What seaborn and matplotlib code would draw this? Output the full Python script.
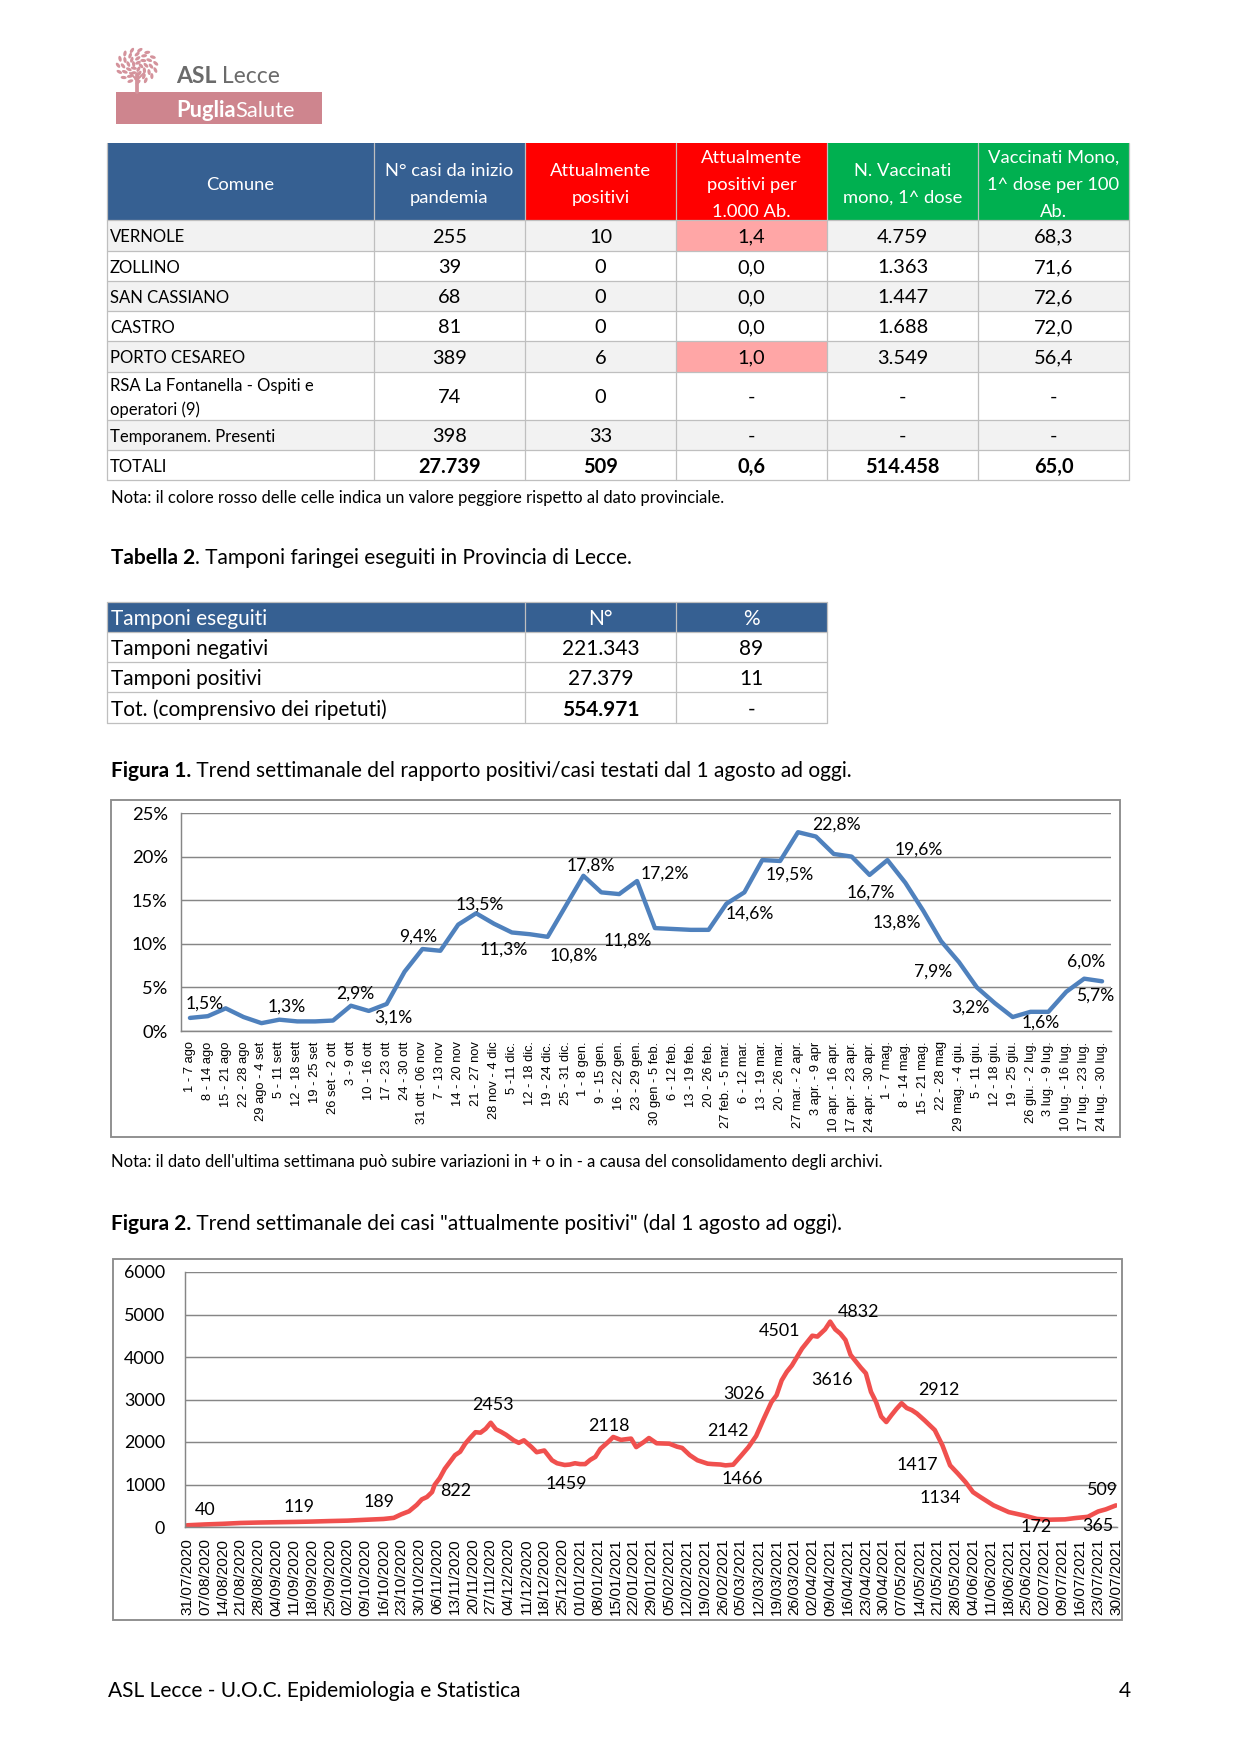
"""Ricostruzione della pagina 4 del report ASL Lecce: due tabelle e due grafici di trend."""

import matplotlib

matplotlib.use("Agg")
import matplotlib.pyplot as plt
import numpy as np
import seaborn as sns
from matplotlib.patches import Ellipse, Rectangle
from matplotlib.ticker import PercentFormatter

W, H, DPI = 1241, 1755, 150
GRIGIO = "#868686"
BLU = "#366092"
ROSSO = "#FF0000"
VERDE = "#00B050"
VA = "center_baseline"

# --- Tabella 1 ---
intestazioni = [
    "Comune",
    "N° casi da inizio\npandemia",
    "Attualmente\npositivi",
    "Attualmente\npositivi per\n1.000 Ab.",
    "N. Vaccinati\nmono, 1^ dose",
    "Vaccinati Mono,\n1^ dose per 100\nAb.",
]
comuni = [
    "VERNOLE", "ZOLLINO", "SAN CASSIANO", "CASTRO", "PORTO CESAREO",
    "RSA La Fontanella - Ospiti e\noperatori (9)", "Temporanem. Presenti", "TOTALI",
]
casi_totali = ["255", "39", "68", "81", "389", "74", "398", "27.739"]
attualmente_positivi = ["10", "0", "0", "0", "6", "0", "33", "509"]
positivi_per_1000 = ["1,4", "0,0", "0,0", "0,0", "1,0", "-", "-", "0,6"]
vaccinati = ["4.759", "1.363", "1.447", "1.688", "3.549", "-", "-", "514.458"]
vaccinati_per_100 = ["68,3", "71,6", "72,6", "72,0", "56,4", "-", "-", "65,0"]
peggiore_del_provinciale = [True, False, False, False, True, False, False, False]

# --- Tabella 2 ---
tamponi_voci = ["Tamponi negativi", "Tamponi positivi", "Tot. (comprensivo dei ripetuti)"]
tamponi_n = ["221.343", "27.379", "554.971"]
tamponi_pct = ["89", "11", "-"]

# --- Figura 1: rapporto positivi/testati per settimana (%) ---
settimane = [
    "1 - 7 ago", "8 - 14 ago", "15 - 21 ago", "22 - 28 ago", "29 ago - 4 set",
    "5 - 11 sett", "12 - 18 sett", "19 - 25 set", "26 set - 2 ott", "3 - 9 ott",
    "10 - 16 ott", "17 - 23 ott", "24 - 30 ott", "31 ott - 06 nov", "7 - 13 nov",
    "14 - 20 nov", "21 - 27 nov", "28 nov - 4 dic", "5 -11 dic.", "12 - 18 dic.",
    "19 - 24 dic.", "25 - 31 dic.", "1 - 8 gen.", "9 - 15 gen.", "16 - 22 gen.",
    "23 - 29 gen.", "30 gen - 5 feb.", "6 - 12 feb.", "13 - 19 feb.", "20 - 26 feb.",
    "27 feb. - 5 mar.", "6 - 12 mar.", "13 - 19 mar.", "20 - 26 mar.", "27 mar. - 2 apr.",
    "3 apr. - 9 apr", "10 apr. - 16 apr.", "17 apr. - 23 apr.", "24 apr. - 30 apr.", "1 - 7 mag.",
    "8 - 14 mag.", "15 - 21 mag.", "22 - 28 mag", "29 mag. - 4 giu.", "5 - 11 giu.",
    "12 - 18 giu.", "19 - 25 giu.", "26 giu. - 2 lug.", "3 lug. - 9 lug.", "10 lug. - 16 lug.",
    "17 lug. - 23 lug.", "24 lug. - 30 lug.",
]
rapporto_positivi = [
    1.5, 1.7, 2.6, 1.6, 0.9, 1.3, 1.1, 1.1, 1.2, 2.9,
    2.3, 3.1, 6.8, 9.4, 9.2, 12.2, 13.5, 12.3, 11.3, 11.1,
    10.8, 14.3, 17.8, 15.9, 15.7, 17.2, 11.8, 11.7, 11.6, 11.6,
    14.6, 15.9, 19.6, 19.5, 22.8, 22.3, 20.3, 20.0, 17.9, 19.6,
    17.0, 13.8, 10.3, 7.9, 5.0, 3.2, 1.6, 2.2, 2.2, 4.5,
    6.0, 5.7,
]
etichette_fig1 = {
    0: "1,5%", 5: "1,3%", 9: "2,9%", 11: "3,1%", 13: "9,4%", 16: "13,5%",
    18: "11,3%", 20: "10,8%", 22: "17,8%", 25: "17,2%", 26: "11,8%", 30: "14,6%",
    33: "19,5%", 34: "22,8%", 38: "16,7%", 39: "19,6%", 41: "13,8%", 43: "7,9%",
    45: "3,2%", 46: "1,6%", 50: "6,0%", 51: "5,7%",
}

# --- Figura 2: attualmente positivi (giorni dal 31/07/2020) ---
giorni = [
    0, 7, 14, 21, 28, 35, 42, 49, 56, 63,
    70, 77, 81, 84, 87, 90, 92, 94, 96, 97,
    99, 101, 103, 105, 107, 109, 111, 113, 115, 117,
    119, 121, 123, 125, 128, 130, 132, 135, 137, 140,
    143, 145, 148, 150, 152, 154, 156, 158, 160, 162,
    165, 167, 170, 174, 176, 179, 181, 184, 189, 192,
    194, 197, 200, 204, 206, 209, 211, 214, 217, 220,
    223, 226, 229, 231, 233, 235, 237, 239, 241, 243,
    245, 247, 250, 252, 254, 256, 258, 260, 262, 264,
    266, 268, 270, 272, 274, 276, 278, 280, 282, 284,
    286, 289, 293, 296, 299, 302, 305, 308, 311, 316,
    322, 328, 333, 338, 344, 348, 353, 357, 360, 364,
]
attualmente = [
    40, 60, 75, 95, 105, 112, 119, 128, 140, 150,
    170, 189, 215, 300, 370, 520, 650, 706, 822, 990,
    1150, 1370, 1530, 1690, 1770, 1960, 2100, 2230, 2220, 2310,
    2453, 2300, 2240, 2170, 2040, 1980, 2040, 1880, 1760, 1800,
    1570, 1500, 1459, 1470, 1500, 1480, 1480, 1580, 1650, 1840,
    2000, 2118, 2050, 2080, 1880, 2000, 2094, 1970, 1960, 1890,
    1860, 1690, 1570, 1490, 1480, 1470, 1450, 1466, 1670, 1880,
    2142, 2550, 2940, 3100, 3450, 3650, 3800, 4000, 4200, 4350,
    4501, 4480, 4650, 4832, 4650, 4550, 4400, 4050, 3900, 3750,
    3616, 3180, 2940, 2600, 2470, 2630, 2780, 2912, 2800, 2750,
    2670, 2510, 2280, 1920, 1450, 1260, 1060, 820, 700, 510,
    350, 270, 190, 172, 180, 210, 240, 365, 415, 509,
]
date_settimanali = [
    "31/07/2020", "07/08/2020", "14/08/2020", "21/08/2020", "28/08/2020", "04/09/2020",
    "11/09/2020", "18/09/2020", "25/09/2020", "02/10/2020", "09/10/2020", "16/10/2020",
    "23/10/2020", "30/10/2020", "06/11/2020", "13/11/2020", "20/11/2020", "27/11/2020",
    "04/12/2020", "11/12/2020", "18/12/2020", "25/12/2020", "01/01/2021", "08/01/2021",
    "15/01/2021", "22/01/2021", "29/01/2021", "05/02/2021", "12/02/2021", "19/02/2021",
    "26/02/2021", "05/03/2021", "12/03/2021", "19/03/2021", "26/03/2021", "02/04/2021",
    "09/04/2021", "16/04/2021", "23/04/2021", "30/04/2021", "07/05/2021", "14/05/2021",
    "21/05/2021", "28/05/2021", "04/06/2021", "11/06/2021", "18/06/2021", "25/06/2021",
    "02/07/2021", "09/07/2021", "16/07/2021", "23/07/2021", "30/07/2021",
]
etichette_fig2 = {
    0: "40", 42: "119", 77: "189", 96: "822", 119: "2453", 148: "1459", 167: "2118",
    214: "1466", 223: "2142", 231: "3026", 245: "4501", 252: "4832", 266: "3616",
    280: "2912", 299: "1417", 305: "1134", 338: "172", 357: "365", 364: "509",
}


def px_axes(fig, x0, y0, x1, y1):
    return fig.add_axes([x0 / W, 1 - y1 / H, (x1 - x0) / W, (y1 - y0) / H])


def testo_misto(ax, x, y, parti, size, color="black"):
    t = ax.text(x, y, parti[0][0], fontsize=size, fontweight=parti[0][1],
                color=color, ha="left", va=VA)
    for s, w in parti[1:]:
        t = ax.annotate(s, xy=(1, 0), xycoords=t, fontsize=size, fontweight=w,
                        color=color, ha="left", va="bottom")
    return t


def righe_centrate(ax, xc, yc, testo, passo, **kw):
    righe = testo.split("\n")
    n = len(righe)
    for k, r in enumerate(righe):
        ax.text(xc, yc + (k - (n - 1) / 2) * passo, r, ha="center", va=VA, **kw)


def disegna_logo(page):
    rosa = "#D4939C"
    page.add_patch(Rectangle((116, 92), 206, 32, color="#CE858E", lw=0))
    page.plot([137, 137], [92, 74], color=rosa, lw=1.8)
    page.plot([137, 130], [80, 73], color=rosa, lw=1.0)
    page.plot([137, 144], [80, 73], color=rosa, lw=1.0)
    for r, n in [(4, 5), (9, 9), (14, 12), (19, 15)]:
        for k in range(n):
            a = 2 * np.pi * k / n + r * 0.3
            page.add_patch(Ellipse((137 + r * np.cos(a), 66 + 0.85 * r * np.sin(a)), 6, 3.2,
                                   angle=np.degrees(a) + 50, color=rosa, lw=0))
    testo_misto(page, 176, 74, [("ASL", "bold"), (" Lecce", "normal")], 11, color="#6B6B6B")
    testo_misto(page, 176, 108, [("Puglia", "bold"), ("Salute", "normal")], 10.5, color="white")


def disegna_tabella1(page):
    col_x = [107, 374, 525, 676, 827, 978, 1129]
    row_y = [220, 251, 281, 311, 341, 372, 420, 450, 480]
    colori_testa = [BLU, BLU, ROSSO, ROSSO, VERDE, VERDE]
    for j, (testo, col) in enumerate(zip(intestazioni, colori_testa)):
        page.add_patch(Rectangle((col_x[j], 143), col_x[j + 1] - col_x[j], 77, color=col, lw=0))
        righe_centrate(page, (col_x[j] + col_x[j + 1]) / 2, 183, testo, 27,
                       color="white", fontsize=8.8)
    colonne = [casi_totali, attualmente_positivi, positivi_per_1000, vaccinati, vaccinati_per_100]
    for i, nome in enumerate(comuni):
        y0, y1 = row_y[i], row_y[i + 1]
        fondo = "#F2F2F2" if i % 2 == 0 else "white"
        page.add_patch(Rectangle((col_x[0], y0), col_x[-1] - col_x[0], y1 - y0, color=fondo, lw=0))
        if peggiore_del_provinciale[i]:
            page.add_patch(Rectangle((col_x[3], y0), col_x[4] - col_x[3], y1 - y0,
                                     color="#FFA6A6", lw=0))
        yc = (y0 + y1) / 2
        righe = nome.split("\n")
        for k, r in enumerate(righe):
            page.text(110, yc + (k - (len(righe) - 1) / 2) * 24, r, ha="left", va=VA,
                      fontsize=8)
        peso = "bold" if nome == "TOTALI" else "normal"
        for j, valori in enumerate(colonne):
            page.text((col_x[j + 1] + col_x[j + 2]) / 2, yc, valori[i], ha="center",
                      va=VA, fontsize=9.6, fontweight=peso)
    for y in row_y:
        page.plot([col_x[0], col_x[-1]], [y, y], color="#BFBFBF", lw=0.6)
    for x in col_x:
        page.plot([x, x], [143, row_y[-1]], color="#BFBFBF", lw=0.6)
    page.text(111, 496, "Nota: il colore rosso delle celle indica un valore peggiore rispetto "
              "al dato provinciale.", ha="left", va=VA, fontsize=8)


def disegna_tabella2(page):
    testo_misto(page, 111, 556, [("Tabella 2", "bold"),
                                 (". Tamponi faringei eseguiti in Provincia di Lecce.", "normal")], 10)
    col_x = [107, 525, 676, 827]
    row_y = [602, 632, 662, 692, 723]
    page.add_patch(Rectangle((col_x[0], row_y[0]), col_x[-1] - col_x[0], 30, color=BLU, lw=0))
    for testo, xc in zip(["N°", "%"], [600.5, 751.5]):
        page.text(xc, 617, testo, ha="center", va=VA, color="white", fontsize=10)
    page.text(111, 617, "Tamponi eseguiti", ha="left", va=VA, color="white", fontsize=10)
    for i, voce in enumerate(tamponi_voci):
        yc = (row_y[i + 1] + row_y[i + 2]) / 2
        peso = "bold" if i == 2 else "normal"
        page.text(111, yc, voce, ha="left", va=VA, fontsize=10)
        page.text(600.5, yc, tamponi_n[i], ha="center", va=VA, fontsize=10, fontweight=peso)
        page.text(751.5, yc, tamponi_pct[i], ha="center", va=VA, fontsize=10)
    for y in row_y:
        page.plot([col_x[0], col_x[-1]], [y, y], color="#BFBFBF", lw=0.6)
    for x in col_x:
        page.plot([x, x], [row_y[0], row_y[-1]], color="#BFBFBF", lw=0.6)


def stile_assi(ax):
    ax.set_facecolor("none")
    for lato in ["top", "right"]:
        ax.spines[lato].set_visible(False)
    for lato in ["left", "bottom"]:
        ax.spines[lato].set_color(GRIGIO)
        ax.spines[lato].set_linewidth(0.7)
    ax.grid(axis="y", color=GRIGIO, linewidth=0.7)
    ax.grid(axis="x", visible=False)
    ax.set_axisbelow(True)
    ax.set_xlabel("")
    ax.set_ylabel("")


def disegna_figura1(fig, page):
    testo_misto(page, 111, 769, [("Figura 1.", "bold"),
                                 (" Trend settimanale del rapporto positivi/casi testati dal 1 agosto ad oggi.",
                                  "normal")], 10)
    page.add_patch(Rectangle((111, 800), 1009, 337, fill=False, edgecolor="#8C8C8C", lw=0.9))
    ax = px_axes(fig, 181, 813, 1111, 1031)
    pos = np.arange(len(settimane))
    sns.lineplot(x=pos, y=rapporto_positivi, ax=ax, color="#4F81BD", linewidth=2.1, sort=False)
    ax.set_xlim(-0.5, len(settimane) - 0.5)
    ax.set_ylim(0, 25)
    ax.set_yticks(range(0, 26, 5))
    ax.yaxis.set_major_formatter(PercentFormatter(decimals=0))
    ax.set_xticks(pos)
    ax.set_xticklabels(settimane, rotation=90, fontfamily="Liberation Sans", fontsize=6.2)
    ax.set_xticks(np.arange(-0.5, len(settimane), 1), minor=True)
    stile_assi(ax)
    ax.tick_params(axis="x", which="major", length=0, pad=5)
    ax.tick_params(axis="x", which="minor", length=2.4, color=GRIGIO, width=0.7)
    ax.tick_params(axis="y", length=2.4, color=GRIGIO, width=0.7, pad=4, labelsize=8.8)
    scarti = {
        0: (15, -14), 5: (7, -13), 9: (4, -12), 11: (7, 14), 13: (-4, -12), 16: (4, -9),
        18: (-8, 17), 20: (26, 19), 22: (7, -10), 25: (28, -7), 26: (-27, 13), 30: (23, 10),
        33: (10, 14), 34: (38, -8), 38: (1, 18), 39: (31, -10), 41: (-26, 12), 43: (-26, 10),
        45: (-24, 5), 46: (28, 6), 50: (2, -17), 51: (-7, 14),
    }
    for i, testo in etichette_fig1.items():
        dx, dy = scarti[i]
        ax.annotate(testo, xy=(pos[i], rapporto_positivi[i]), xytext=(dx, -dy),
                    textcoords="offset pixels", ha="center", va="center", fontsize=8.4)
    page.text(111, 1161, "Nota: il dato dell'ultima settimana può subire variazioni in + o in - a "
              "causa del consolidamento degli archivi.", ha="left", va=VA, fontsize=8)


def disegna_figura2(fig, page):
    testo_misto(page, 111, 1222, [("Figura 2.", "bold"),
                                  (' Trend settimanale dei casi "attualmente positivi" (dal 1 agosto ad oggi).',
                                   "normal")], 10)
    page.add_patch(Rectangle((113, 1259), 1009, 361, fill=False, edgecolor="#8C8C8C", lw=0.9))
    ax = px_axes(fig, 185, 1272, 1117, 1527)
    sns.lineplot(x=giorni, y=attualmente, ax=ax, color="#F0504E", linewidth=2.2, sort=False)
    ax.set_xlim(-0.8, 364.4)
    ax.set_ylim(0, 6000)
    ax.set_yticks(range(0, 6001, 1000))
    ax.set_xticks(np.arange(0, 365, 7))
    ax.set_xticklabels(date_settimanali, rotation=90, fontfamily="Liberation Sans", fontsize=7.4)
    stile_assi(ax)
    ax.tick_params(axis="x", length=2.0, color=GRIGIO, width=0.7, pad=3.5)
    ax.tick_params(axis="y", length=0, pad=9.5, labelsize=8.6)
    scarti = {
        0: (18, -15), 42: (5, -15), 77: (-5, -17), 96: (24, -1), 119: (2, -18), 148: (2, 19),
        167: (-4, -11), 214: (9, 14), 223: (-28, -5), 231: (-33, -1), 245: (-33, -5),
        252: (28, -10), 266: (-34, 7), 280: (37, -13), 299: (-33, 0), 305: (-25, 16),
        338: (-13, 7), 357: (0, 15), 364: (-14, -15),
    }
    for g, testo in etichette_fig2.items():
        dx, dy = scarti[g]
        v = attualmente[giorni.index(g)]
        ax.annotate(testo, xy=(g, v), xytext=(dx, -dy), textcoords="offset pixels",
                    ha="center", va="center", fontsize=8.6)


def main():
    sns.set_theme(style="white")
    plt.rcParams["font.family"] = ["Lato", "DejaVu Sans"]
    plt.rcParams["text.color"] = "black"
    plt.rcParams["xtick.color"] = "black"
    plt.rcParams["ytick.color"] = "black"

    fig = plt.figure(figsize=(W / DPI, H / DPI), dpi=DPI)
    page = fig.add_axes([0, 0, 1, 1])
    page.set_xlim(0, W)
    page.set_ylim(H, 0)
    page.axis("off")

    disegna_logo(page)
    disegna_tabella1(page)
    disegna_tabella2(page)
    disegna_figura1(fig, page)
    disegna_figura2(fig, page)

    page.text(108, 1689, "ASL Lecce - U.O.C. Epidemiologia e Statistica", ha="left",
              va=VA, fontsize=10)
    page.text(1131, 1689, "4", ha="right", va=VA, fontsize=10)

    fig.savefig("out.png", dpi=DPI)
    plt.close(fig)


if __name__ == "__main__":
    main()
